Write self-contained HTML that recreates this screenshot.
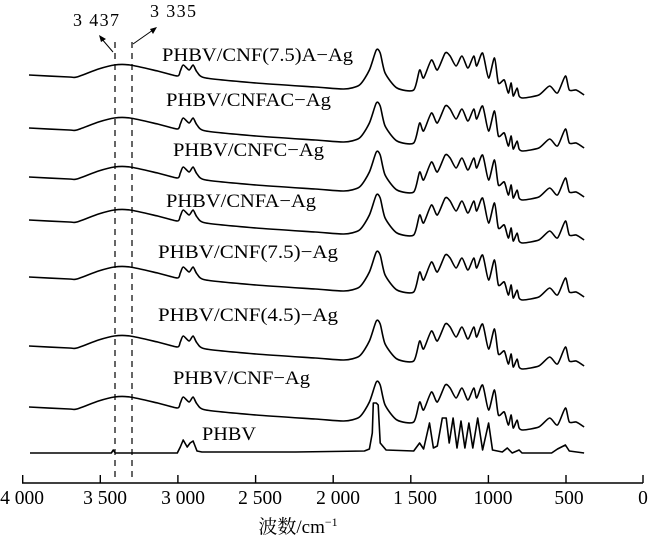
<!DOCTYPE html>
<html><head><meta charset="utf-8"><style>
html,body{margin:0;padding:0;background:#fff;}
svg{display:block;}
text{font-family:"Liberation Serif","Noto Serif CJK SC",serif;fill:#000;}
</style></head><body>
<svg id="s" width="650" height="547" viewBox="0 0 650 547" xmlns="http://www.w3.org/2000/svg">
<g id="curves" fill="none" stroke="#000" stroke-width="1.6" stroke-linejoin="round"></g>
<line x1="115" y1="42" x2="115" y2="478" stroke="#000" stroke-width="1.2" stroke-dasharray="6,5"/>
<line x1="132" y1="42" x2="132" y2="478" stroke="#000" stroke-width="1.2" stroke-dasharray="6,5"/>
<line x1="113" y1="52" x2="101" y2="38" stroke="#000" stroke-width="1"/>
<polygon points="99,35 106,39 101,42" fill="#000"/>
<line x1="133" y1="44" x2="153" y2="30" stroke="#000" stroke-width="1"/>
<polygon points="157,27 150,29 153,34" fill="#000"/>
<text x="73" y="26" font-size="18" textLength="46">3 437</text>
<text x="150" y="17" font-size="18" textLength="46">3 335</text>
<g font-size="19">
<text x="162" y="61" textLength="191" lengthAdjust="spacingAndGlyphs">PHBV/CNF(7.5)A−Ag</text>
<text x="166" y="106" textLength="165" lengthAdjust="spacingAndGlyphs">PHBV/CNFAC−Ag</text>
<text x="173" y="156" textLength="151" lengthAdjust="spacingAndGlyphs">PHBV/CNFC−Ag</text>
<text x="166" y="207" textLength="150" lengthAdjust="spacingAndGlyphs">PHBV/CNFA−Ag</text>
<text x="158" y="258" textLength="180" lengthAdjust="spacingAndGlyphs">PHBV/CNF(7.5)−Ag</text>
<text x="158" y="321" textLength="180" lengthAdjust="spacingAndGlyphs">PHBV/CNF(4.5)−Ag</text>
<text x="173" y="384" textLength="137" lengthAdjust="spacingAndGlyphs">PHBV/CNF−Ag</text>
<text x="202" y="440" textLength="54" lengthAdjust="spacingAndGlyphs">PHBV</text>
</g>
<g stroke="#000" stroke-width="1.4">
<line x1="22" y1="483" x2="643" y2="483"/>
<line x1="22.7" y1="475" x2="22.7" y2="483"/>
<line x1="100.3" y1="475" x2="100.3" y2="483"/>
<line x1="177.9" y1="475" x2="177.9" y2="483"/>
<line x1="255.6" y1="475" x2="255.6" y2="483"/>
<line x1="333.2" y1="475" x2="333.2" y2="483"/>
<line x1="410.8" y1="475" x2="410.8" y2="483"/>
<line x1="488.4" y1="475" x2="488.4" y2="483"/>
<line x1="566" y1="475" x2="566" y2="483"/>
<line x1="643" y1="475" x2="643" y2="483"/>
</g>
<g font-size="19.5" text-anchor="middle">
<text x="22" y="504">4 000</text>
<text x="105" y="504">3 500</text>
<text x="183" y="504">3 000</text>
<text x="260" y="504">2 500</text>
<text x="338" y="504">2 000</text>
<text x="415" y="504">1 500</text>
<text x="493" y="504">1000</text>
<text x="569" y="504">500</text>
<text x="643" y="504">0</text>
</g>
<text x="298" y="533" font-size="19" text-anchor="middle">波数/cm<tspan font-size="12" dy="-7">−1</tspan></text>
</svg>
<script>
var T=[[29,0],[70,2],[78,2],[100,-6],[116,-10],[132,-10],[160,-4],[180,1],[183,-4],[186,-10],[192,-5],[196,-10],[200,-3],[209,3],[260,8],[320,12],[349,14],[365,10],[375,-5],[382,-25],[386,-22],[391,-2],[403,13],[420,15],[426,-5],[430,3],[438,-15],[444,-5],[452,-22],[457,-19],[463,-9],[469,-19],[475,-7],[481,-19],[484,-9],[490,-22],[496,3],[502,-17],[506,8],[512,5],[516,18],[519,8],[521,21],[525,13],[527,21],[531,23],[547,20],[558,11],[566,18],[574,1],[578,15],[585,15],[593,20]];
var P=[[30,0],[113,0],[115,-3],[117,0],[180,0],[183,-6],[186,-13],[190,-6],[193,-10],[196,-12],[200,-2],[205,-1],[300,-1],[370,-2],[375,-4],[378,-20],[379,-50],[382,-50],[384,-48],[386,-10],[392,-3],[420,-2],[426,-10],[430,-4],[436,-30],[440,-5],[444,-7],[449,-35],[453,-35],[456,-10],[460,-35],[464,-5],[468,-32],[472,-5],[476,-30],[480,-5],[485,-35],[490,-3],[496,-30],[500,-3],[510,-1],[515,-5],[520,0],[527,-3],[530,0],[560,0],[566,-4],[574,-8],[578,-2],[593,0]];
function path(pts,y0,sm){
 var q=pts.map(function(p){return [p[0]<40?p[0]:p[0]*0.985,y0+p[1]];});
 var d='M'+q[0][0].toFixed(1)+','+q[0][1].toFixed(1);
 for(var i=0;i<q.length-1;i++){
  var p0=q[Math.max(0,i-1)],p1=q[i],p2=q[i+1],p3=q[Math.min(q.length-1,i+2)];
  if(!sm){d+=' L'+p2[0].toFixed(1)+','+p2[1].toFixed(1);continue;}
  var t=0.12;
  var c1=[p1[0]+(p2[0]-p0[0])*t,p1[1]+(p2[1]-p0[1])*t];
  var c2=[p2[0]-(p3[0]-p1[0])*t,p2[1]-(p3[1]-p1[1])*t];
  d+=' C'+c1[0].toFixed(1)+','+c1[1].toFixed(1)+' '+c2[0].toFixed(1)+','+c2[1].toFixed(1)+' '+p2[0].toFixed(1)+','+p2[1].toFixed(1);
 }
 return d;}
var g=document.getElementById('curves'),ns='http://www.w3.org/2000/svg';
[75,128,177,220,277,346,407].forEach(function(y){var e=document.createElementNS(ns,'path');e.setAttribute('d',path(T,y,true));g.appendChild(e);});
var e=document.createElementNS(ns,'path');e.setAttribute('d',path(P,453,false));g.appendChild(e);
</script>
</body></html>
